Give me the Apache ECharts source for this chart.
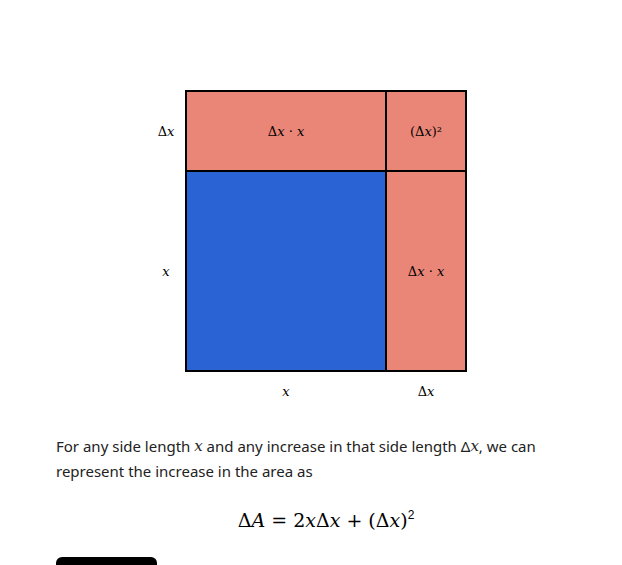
<!DOCTYPE html>
<html><head><meta charset="utf-8">
<script src="https://cdn.jsdelivr.net/npm/echarts@6/dist/echarts.min.js"></script>
<style>html,body{margin:0;background:#fff}#c{width:622px;height:565px}</style>
</head><body><div id="c"></div>
<script>
// side length x = 1, increase dx = 0.4
const side = 1;
const dx = 0.4;
// regions: [x0, x1, y0, y1, colour, label]
const regions = [
  [0, side, 0, dx, '#ea8677', 'Δ{i|x} · {i|x}'],
  [side, side + dx, 0, dx, '#ea8677', '(Δ{i|x})²'],
  [0, side, dx, side + dx, '#2a64d4', ''],
  [side, side + dx, dx, side + dx, '#ea8677', 'Δ{i|x} · {i|x}']
];
// side labels: [x, y, label]
const sideLabels = [
  [-0.1, dx / 2, 'Δ{i|x}'],
  [-0.1, dx + side / 2, '{i|x}'],
  [side / 2, side + dx + 0.1, '{i|x}'],
  [side + dx / 2, side + dx + 0.1, 'Δ{i|x}']
];

const rich = { i: { fontFamily: 'DejaVu Serif', fontStyle: 'italic', fontSize: 13, fill: '#000' } };
const chart = echarts.init(document.getElementById('c'), null, { renderer: 'svg' });
chart.setOption({
  animation: false,
  grid: { left: 186, top: 91, width: 280, height: 280 },
  xAxis: { type: 'value', min: 0, max: side + dx, show: false },
  yAxis: { type: 'value', min: 0, max: side + dx, inverse: true, show: false },
  series: [
    {
      type: 'custom',
      data: regions.map(r => r.slice(0, 4)),
      renderItem(params, api) {
        const r = regions[params.dataIndex];
        const p0 = api.coord([r[0], r[2]]);
        const p1 = api.coord([r[1], r[3]]);
        return {
          type: 'group',
          children: [
            { type: 'rect', shape: { x: p0[0], y: p0[1], width: p1[0] - p0[0], height: p1[1] - p0[1] },
              style: { fill: r[4], stroke: '#000', lineWidth: 2 } },
            { type: 'text', x: (p0[0] + p1[0]) / 2, y: (p0[1] + p1[1]) / 2,
              style: { text: r[5], align: 'center', verticalAlign: 'middle', fontFamily: 'DejaVu Serif', fontSize: 13, fill: '#000', rich } }
          ]
        };
      }
    },
    {
      type: 'custom',
      data: sideLabels.map(s => s.slice(0, 2)),
      renderItem(params, api) {
        const s = sideLabels[params.dataIndex];
        const p = api.coord([s[0], s[1]]);
        return { type: 'text', x: p[0], y: p[1],
          style: { text: s[2], align: 'center', verticalAlign: 'middle', fontFamily: 'DejaVu Serif', fontSize: 13, fill: '#000', rich } };
      }
    }
  ],
  graphic: [
    { type: 'text', left: 56, top: 438, style: { text: 'For any side length {i|x} and any increase in that side length Δ{i|x}, we can', fontFamily: 'Noto Sans', fontSize: 15, fill: '#222', rich: { i: { fontFamily: 'DejaVu Serif', fontStyle: 'italic', fontSize: 15 } } } },
    { type: 'text', left: 56, top: 463, style: { text: 'represent the increase in the area as', fontFamily: 'Noto Sans', fontSize: 15, fill: '#222' } },
    { type: 'text', x: 326, y: 520, style: { text: 'Δ{i|A} = 2{i|x}Δ{i|x} + (Δ{i|x}){s|2}', align: 'center', verticalAlign: 'middle', fontFamily: 'DejaVu Serif', fontSize: 19, fill: '#000',
      rich: { i: { fontFamily: 'DejaVu Serif', fontStyle: 'italic', fontSize: 19 }, s: { fontSize: 12, verticalAlign: 'top', padding: [0, 0, 10, 0] } } } },
    { type: 'rect', shape: { x: 56, y: 557, width: 101, height: 20, r: 6 }, style: { fill: '#000' } }
  ]
});
</script></body></html>
